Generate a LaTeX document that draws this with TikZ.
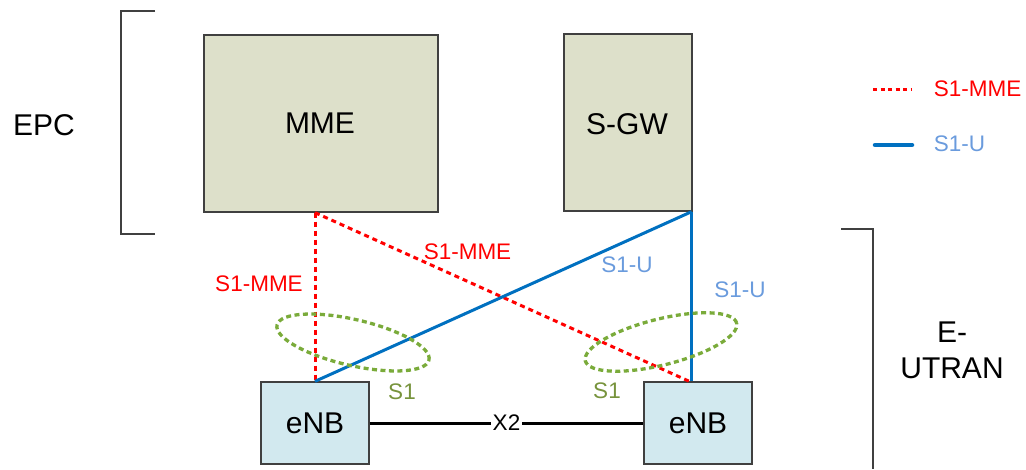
\documentclass[tikz,border=0pt]{standalone}
\usepackage{fontspec}
\setmainfont{Liberation Sans}
\usetikzlibrary{calc}
\definecolor{epcfill}{HTML}{DDE0CA}
\definecolor{enbfill}{HTML}{D2E9EF}
\definecolor{sblue}{HTML}{0070C0}
\definecolor{lblue}{HTML}{6A9BDD}
\definecolor{sgreen}{HTML}{7AAB3A}
\definecolor{tgreen}{HTML}{77933C}
\definecolor{frame}{HTML}{404040}
\tikzset{
  bigtext/.style={font=\fontsize{30}{36}\selectfont, inner sep=0pt, align=center},
  smalltext/.style={font=\fontsize{22.5}{27}\selectfont, inner sep=0pt},
  epcbox/.style={draw=frame, line width=1.3pt, fill=epcfill, minimum height=177pt, inner sep=0pt, font=\fontsize{30}{36}\selectfont},
  enbbox/.style={draw=frame, line width=1.3pt, fill=enbfill, minimum width=108pt, minimum height=82pt, inner sep=0pt, font=\fontsize{30}{36}\selectfont},
  mmelink/.style={red, line width=3pt, dash pattern=on 5pt off 4pt},
  ulink/.style={sblue, line width=3pt},
  s1ring/.style={sgreen, line width=3.3pt, dash pattern=on 5pt off 3.5pt},
  bracket/.style={frame, line width=1.3pt},
}
\begin{document}
\begin{tikzpicture}[x=1pt, y=-1pt]
\useasboundingbox (0,0) rectangle (1026,469);

% core network boxes
\node[epcbox, minimum width=234pt] (mme) at (321,123.5) {};
\node[bigtext] (mmetext) at (320,123) {MME};
\node[epcbox, minimum width=128pt] (sgw) at (628,122.5) {};
\node[bigtext] (sgwtext) at (627,124) {S-GW};

% base stations
\node[enbbox] (enbL) at (315,423) {eNB};
\node[enbbox] (enbR) at (698,423) {eNB};

% attachment points of the interfaces
\coordinate (mmeport) at (enbL.north |- mme.south);
\coordinate (sgwport) at ($(sgw.south east)+(-1,0)$);
\coordinate (enbRport) at ($(enbR.north west)+(46,0)$);
\coordinate (enbRportU) at (sgwport |- enbR.north);

% X2 link
\draw[black, line width=3pt] (enbL.east) -- (enbR.west)
  node[pos=0.5, fill=white, smalltext, inner sep=2pt] (x2) {X2};

% S1-MME links
\draw[mmelink] (mmeport) -- (enbL.north);
\draw[mmelink] (mmeport) -- (enbRport);

% S1-U links
\draw[ulink] (sgwport) -- (enbL.north);
\draw[ulink] (sgwport) -- (enbRportU);

% S1 groupings
\draw[s1ring] (353,342.5) ellipse [x radius=78pt, y radius=23pt, rotate=-13];
\draw[s1ring] (661,342) ellipse [x radius=78pt, y radius=23pt, rotate=14];

% interface labels
\node[smalltext, text=red] (lblmme1) at (259,284) {S1-MME};
\node[smalltext, text=red] (lblmme2) at (467.5,251.5) {S1-MME};
\node[smalltext, text=lblue] (lblu1) at (627,265) {S1-U};
\node[smalltext, text=lblue] (lblu2) at (740,290) {S1-U};
\node[smalltext, text=tgreen] (lbls1a) at (402,392) {S1};
\node[smalltext, text=tgreen] (lbls1b) at (607,391) {S1};

% domain brackets
\draw[bracket] (155,11) -- (121,11) -- (121,234) -- (155,234);
\node[bigtext] (epc) at (44,125) {EPC};
\draw[bracket] (841,229) -- (873,229) -- (873,469);
\node[bigtext] (eutran) at (952,350) {E-\\UTRAN};

% legend
\coordinate (legA1) at (873,89);
\coordinate (legA2) at (912,89);
\draw[mmelink, dash pattern=on 4pt off 3.5pt] (legA1) -- (legA2);
\node[smalltext, text=red] (legmme) at (977.5,89) {S1-MME};
\coordinate (legB1) at (875,145);
\coordinate (legB2) at (912,145);
\draw[ulink, line width=4.5pt, line cap=round] (legB1) -- (legB2);
\node[smalltext, text=lblue] (legu) at (959.5,143.5) {S1-U};
\end{tikzpicture}
\end{document}
